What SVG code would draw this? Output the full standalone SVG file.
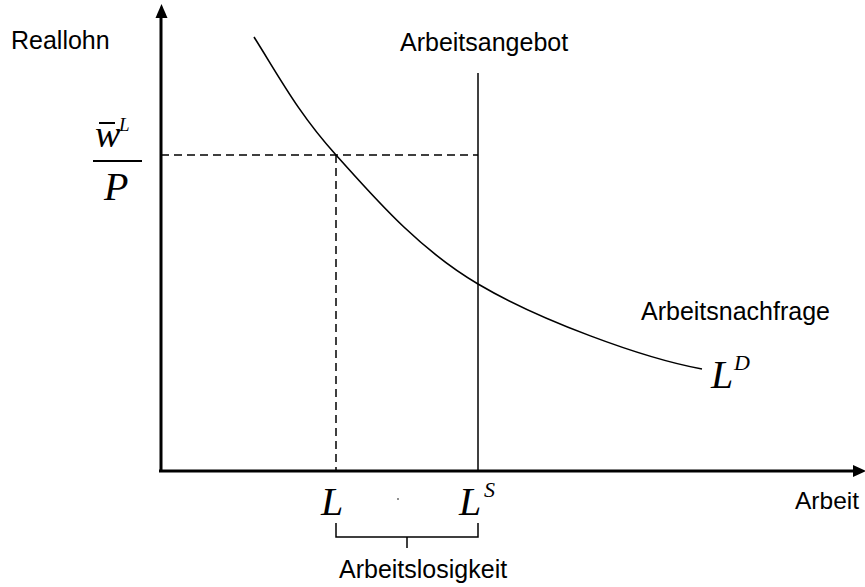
<svg xmlns="http://www.w3.org/2000/svg" width="865" height="587" viewBox="0 0 865 587">
<style>
.lbl{font-family:"Liberation Sans",Arial,sans-serif;font-size:25px;fill:#000}
.math{font-family:"Liberation Serif","Times New Roman",serif;font-style:italic;fill:#000}
.ln{stroke:#000;fill:none}
</style>
<rect width="865" height="587" fill="#fff"/>
<g id="connectors">
<line id="yaxis" class="ln" x1="161" y1="472" x2="161" y2="16" stroke-width="3"/>
<path d="M155.5,18 L161.5,4 L167.5,18 Z" fill="#000"/>
<line id="xaxis" class="ln" x1="159" y1="471" x2="856" y2="471" stroke-width="3"/>
<path d="M853,465 L866,471 L853,477 Z" fill="#000"/>
<line id="supply" class="ln" x1="478" y1="73" x2="478" y2="471" stroke-width="1.5"/>
<line class="ln" x1="161" y1="155" x2="478" y2="155" stroke-width="1.5" stroke-dasharray="8,5"/>
<line class="ln" x1="336" y1="155" x2="336" y2="471" stroke-width="1.5" stroke-dasharray="8,5"/>
<path id="demand" class="ln" stroke-width="1.6" d="M254,37 C281,80 299,114 336,155 C373,196 417,248 478,284 C539,320 642,358 702,369"/>
<path class="ln" stroke-width="1.5" d="M336,523 L336,537 L478,537 L478,523 M407,537 L407,548"/>
<circle cx="398" cy="499" r="0.8" fill="#000"/>
</g>
<g id="yaxis-label"><text class="lbl" x="11" y="49">Reallohn</text></g>
<g id="xaxis-label"><text class="lbl" x="795" y="509" style="font-size:24.5px">Arbeit</text></g>
<g id="supply-label"><text class="lbl" x="400" y="51">Arbeitsangebot</text></g>
<g id="demand-label"><text class="lbl" x="641" y="320">Arbeitsnachfrage</text></g>
<g id="unemployment-label"><text class="lbl" x="339" y="578">Arbeitslosigkeit</text></g>
<g id="wage">
<text class="math" x="95" y="147" font-size="38">w</text>
<line class="ln" x1="99" y1="123" x2="115" y2="123" stroke-width="2"/>
<text class="math" x="119" y="131" font-size="19">L</text>
<line class="ln" x1="93" y1="161" x2="142" y2="161" stroke-width="2"/>
<text class="math" x="104" y="200" font-size="40">P</text>
</g>
<g id="L"><text class="math" x="321" y="515" font-size="40">L</text></g>
<g id="LS"><text class="math" x="459" y="515" font-size="40">L</text><text class="math" x="484" y="497" font-size="22">S</text></g>
<g id="LD"><text class="math" x="711" y="388" font-size="40">L</text><text class="math" x="734" y="370" font-size="22">D</text></g>
</svg>
